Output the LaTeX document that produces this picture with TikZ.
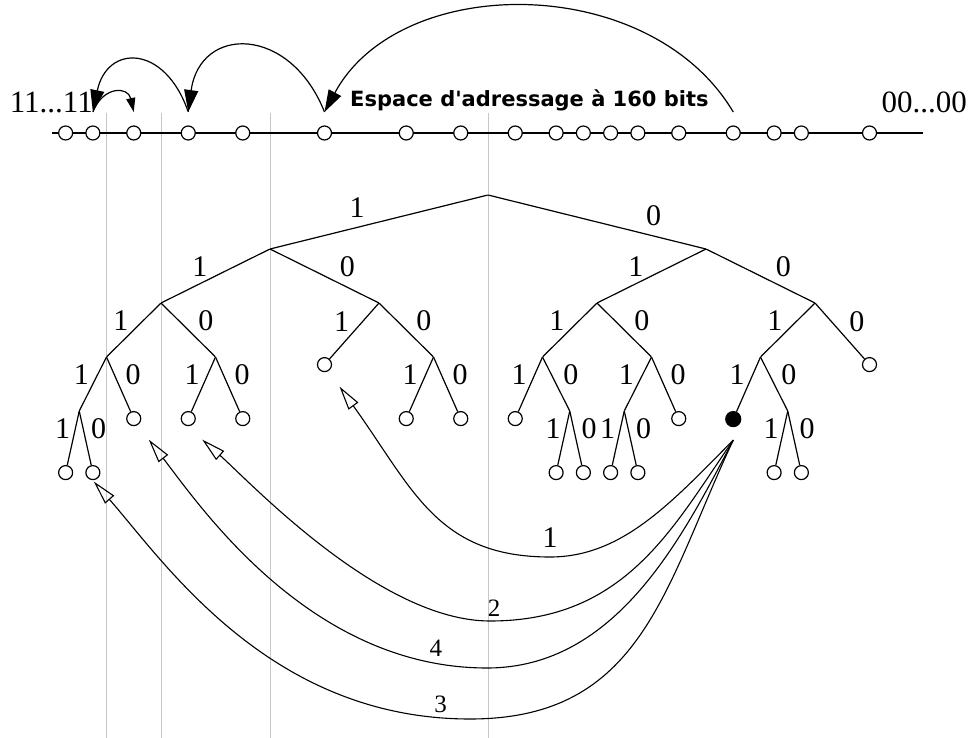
\documentclass[tikz,border=0pt]{standalone}
\usepackage{fontspec}
\setmainfont{Liberation Serif}
\newfontfamily\titlefont{DejaVu Sans}
\usetikzlibrary{arrows.meta,backgrounds}

\begin{document}
\begin{tikzpicture}[x = 1pt, y = -1pt, grow = down, level distance = 54pt,
    level/.style = {sibling distance = 872pt/2^#1},
    edge from parent/.style = {draw, line width = 1.2pt},
    pt/.style = {inner sep = 0pt, minimum size = 0pt},
    leaf/.style = {shape = circle, draw, line width = 1.2pt, fill = white,
        inner sep = 0pt, minimum size = 14pt, anchor = north},
    bit/.style = {inner sep = 4pt, font = \fontsize{30}{36}\selectfont},
    one/.style = {bit, above left, pos = .55, inner sep = 2pt},
    zero/.style = {bit, above right, pos = .6},
    num/.style = {inner sep = 0pt, font = \fontsize{25}{30}\selectfont},
    guide/.style = {draw = black!22, line width = 1pt},
    hop/.style = {line width = 1.2pt, -{Triangle[length = 22pt, width = 14pt]}},
    query/.style = {line width = 1.1pt, -{Triangle[open, length = 24pt, width = 12pt]}}]
    \useasboundingbox (0,0) rectangle (969,738);

    % the routing tree
    \node[pt] (r) at (488,195) {}
        child{ node[pt]{}
            child{ node[pt]{}
                child{ node[pt]{}
                    child{ node[pt]{}
                        child{ node[leaf]{} edge from parent node[one]{1} }
                        child{ node[leaf]{} edge from parent node[zero]{0} }
                        edge from parent node[one]{1} }
                    child{ node[leaf]{} edge from parent node[zero]{0} }
                    edge from parent node[one]{1} }
                child{ node[pt]{}
                    child{ node[leaf]{} edge from parent node[one]{1} }
                    child{ node[leaf]{} edge from parent node[zero]{0} }
                    edge from parent node[zero]{0} }
                edge from parent node[one]{1} }
            child{ node[pt]{}
                child{ node[leaf]{} edge from parent node[one]{1} }
                child{ node[pt]{}
                    child{ node[leaf]{} edge from parent node[one]{1} }
                    child{ node[leaf]{} edge from parent node[zero]{0} }
                    edge from parent node[zero]{0} }
                edge from parent node[zero]{0} }
            edge from parent node[bit, above = 5pt, pos = .6]{1} }
        child{ node[pt]{}
            child{ node[pt]{}
                child{ node[pt]{}
                    child{ node[leaf]{} edge from parent node[one]{1} }
                    child{ node[pt]{}
                        child{ node[leaf]{} edge from parent node[one]{1} }
                        child{ node[leaf]{} edge from parent node[zero]{0} }
                        edge from parent node[zero]{0} }
                    edge from parent node[one]{1} }
                child{ node[pt]{}
                    child{ node[pt]{}
                        child{ node[leaf]{} edge from parent node[one]{1} }
                        child{ node[leaf]{} edge from parent node[zero]{0} }
                        edge from parent node[one]{1} }
                    child{ node[leaf]{} edge from parent node[zero]{0} }
                    edge from parent node[zero]{0} }
                edge from parent node[one]{1} }
            child{ node[pt]{}
                child{ node[pt]{}
                    child{ node[leaf, fill = black, minimum size = 15pt]{} edge from parent node[one]{1} }
                    child{ node[pt]{}
                        child{ node[leaf]{} edge from parent node[one]{1} }
                        child{ node[leaf]{} edge from parent node[zero]{0} }
                        edge from parent node[zero]{0} }
                    edge from parent node[one]{1} }
                child{ node[leaf]{} edge from parent node[zero]{0} }
                edge from parent node[zero]{0} }
            edge from parent node[bit, above = 6pt, pos = .76]{0} };

    % guides under the prefixes
    \coordinate (top) at (0,113);
    \coordinate (bot) at (0,738);
    \begin{scope}[on background layer]
        \foreach \n in {r, r-1, r-1-1, r-1-1-1}
            \draw[guide] (\n |- top) -- (\n |- bot);
    \end{scope}

    % the address line
    \coordinate (lnL) at (52,133);
    \coordinate (lnR) at (923,133);
    \draw[line width = 2.8pt] (lnL) -- (lnR);
    \foreach \l in {r-1-1-1-1-1, r-1-1-1-1-2, r-1-1-1-2, r-1-1-2-1, r-1-1-2-2,
        r-1-2-1, r-1-2-2-1, r-1-2-2-2, r-2-1-1-1, r-2-1-1-2-1, r-2-1-1-2-2,
        r-2-1-2-1-1, r-2-1-2-1-2, r-2-1-2-2, r-2-2-1-1, r-2-2-1-2-1,
        r-2-2-1-2-2, r-2-2-2}
        \node[leaf, anchor = center] at (\l |- lnL) {};

    \node[inner sep = 0pt, anchor = base east, font = \fontsize{31}{36}\selectfont]
        (ones) at (93,113) {11...11};
    \node[inner sep = 0pt, anchor = base east, font = \fontsize{31}{36}\selectfont]
        (zeros) at (967,113) {00...00};
    \node[inner sep = 0pt, anchor = base west, font = \titlefont\bfseries\fontsize{21}{25}\selectfont]
        (space) at (350,107) {Espace d\textquotesingle adressage à 160 bits};

    % hops on the address line
    \coordinate (hy) at (0,112);
    \coordinate (h0) at (r-2-2-1-1 |- hy);
    \coordinate (h1) at (r-1-2-1 |- hy);
    \coordinate (h2) at (r-1-1-2-1 |- hy);
    \coordinate (h3) at (r-1-1-1-1-2 |- hy);
    \coordinate (h4) at (r-1-1-1-2 |- hy);
    \draw[hop] (h0) .. controls (650,-28) and (400,-28) .. (h1);
    \draw[hop] (h1) .. controls (290,25) and (200,25) .. (h2);
    \draw[hop] (h2) .. controls (165,44) and (107,44) .. (h3);
    \draw[hop, -{Triangle[length = 14pt, width = 9pt]}] (h3) .. controls (103,86) and (128,86) .. (h4);

    % queries from the black node
    \coordinate (fan) at ([yshift = -21pt]r-2-2-1-1.center);
    \coordinate (q1) at ([shift = {(15pt,-22pt)}]r-1-2-1.center);
    \coordinate (q2) at ([shift = {(14pt,-21pt)}]r-1-1-2-1.center);
    \coordinate (q3) at ([shift = {(1pt,-9pt)}]r-1-1-1-1-2.center);
    \coordinate (q4) at ([shift = {(15pt,-21pt)}]r-1-1-1-2.center);
    \draw[query] (fan) .. controls (671,503) and (622,557) .. (550,557)
        node[num, above = 9pt, font = \fontsize{30}{36}\selectfont]{1}
        .. controls (437,557) and (413,489) .. (q1);
    \draw[query] (fan) .. controls (673,527) and (626,621) .. (490,621)
        node[num, above = 4pt, xshift = 4pt]{2}
        .. controls (380,621) and (250,482) .. (q2);
    \draw[query] (fan) .. controls (683,536) and (617,668) .. (487,668)
        .. controls (310,668) and (200,506) .. (q4) node[num, pos = .1, above = 6pt]{4};
    \draw[query] (fan) .. controls (664,588) and (642,719) .. (470,719)
        .. controls (270,719) and (165,563) .. (q3) node[num, pos = .05, above = 5pt]{3};
\end{tikzpicture}
\end{document}
